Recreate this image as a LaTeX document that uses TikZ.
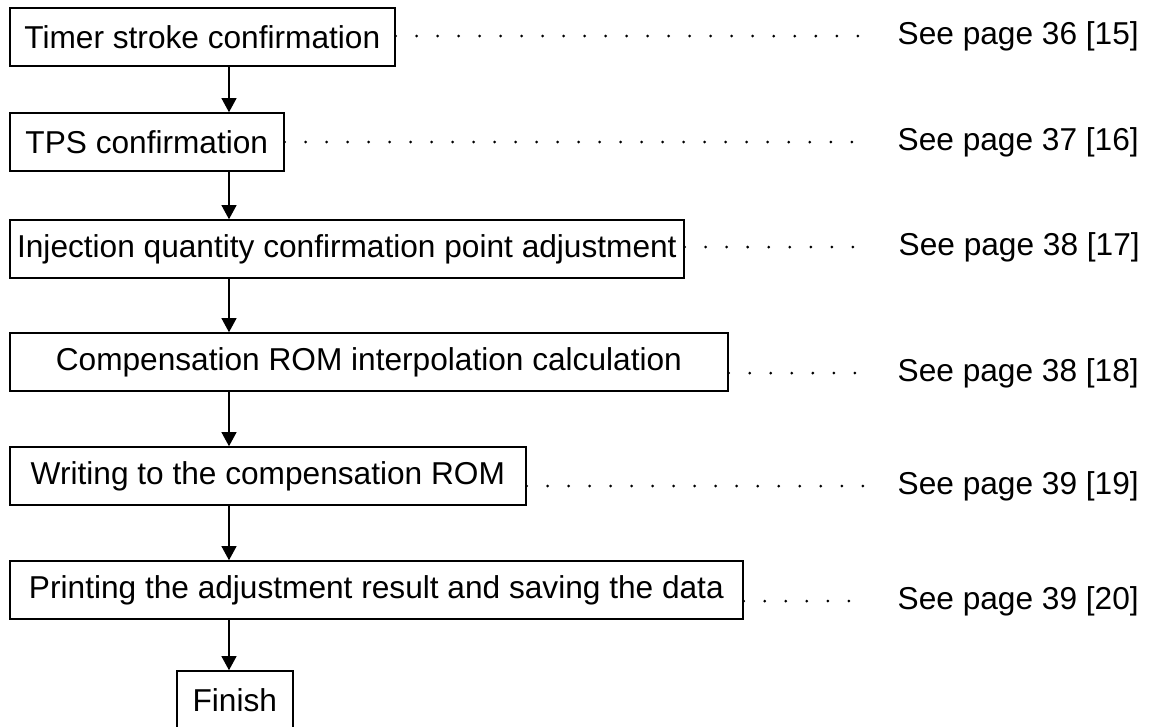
\documentclass[tikz,border=0pt]{standalone}
\usepackage{fontspec}
\setmainfont{Liberation Sans}
\usepackage{tikz}
\usetikzlibrary{
    positioning,
    arrows.meta,
    calc
}

\begin{document}
\begin{tikzpicture}[x=0.025cm, y=-0.025cm,
  font=\fontsize{22.5pt}{27pt}\selectfont,
  stage/.style={draw, line width=1.1pt, anchor=west, minimum height=1.45cm,
                inner sep=0pt, text centered},
  flow/.style={-{Triangle[length=0.35cm, width=0.37cm]}, line width=1.1pt},
  leader/.style={line width=0.075cm, line cap=round,
                 dash pattern=on 0pt off 0.525cm, shorten >=0.75cm},
  ref/.style={anchor=east, inner sep=0pt}]

  % page frame
  \useasboundingbox (0,0) rectangle (1153,726);
  \coordinate (spine) at (229,0);

  % Procedure steps top to bottom
  \node[stage, minimum width=9.625cm]  (S1) at (9,37)  {Timer stroke confirmation};
  \node[stage, minimum width=6.85cm]   (S2) at (9,142) {TPS confirmation};
  \node[stage, minimum width=16.85cm]  (S3) at (9,249) {Injection quantity confirmation point adjustment};
  \node[stage, minimum width=17.95cm]  (S4) at (9,362) {Compensation ROM interpolation calculation};
  \node[stage, minimum width=12.9cm]   (S5) at (9,476) {Writing to the compensation ROM};
  \node[stage, minimum width=18.325cm] (S6) at (9,590) {Printing the adjustment result and saving the data};
  \node[stage, minimum width=2.9cm]    (FN) at (176,700) {Finish};

  % Page references on the right
  \node[ref] (R1) at (1139,36)  {See page 36 [15]};
  \node[ref] (R2) at (1139,142) {See page 37 [16]};
  \node[ref] (R3) at (1140,247) {See page 38 [17]};
  \node[ref] (R4) at (1139,373) {See page 38 [18]};
  \node[ref] (R5) at (1139,486) {See page 39 [19]};
  \node[ref] (R6) at (1139,601) {See page 39 [20]};

  % Downward flow
  \draw[flow] (S1.south -| spine) -- (S2.north -| spine);
  \draw[flow] (S2.south -| spine) -- (S3.north -| spine);
  \draw[flow] (S3.south -| spine) -- (S4.north -| spine);
  \draw[flow] (S4.south -| spine) -- (S5.north -| spine);
  \draw[flow] (S5.south -| spine) -- (S6.north -| spine);
  \draw[flow] (S6.south -| spine) -- (FN.north -| spine);

  % Dotted leaders to the references
  \foreach \i in {1,...,6}
    \draw[leader] (S\i.east |- R\i.west) -- (R\i.west);
\end{tikzpicture}
\end{document}
